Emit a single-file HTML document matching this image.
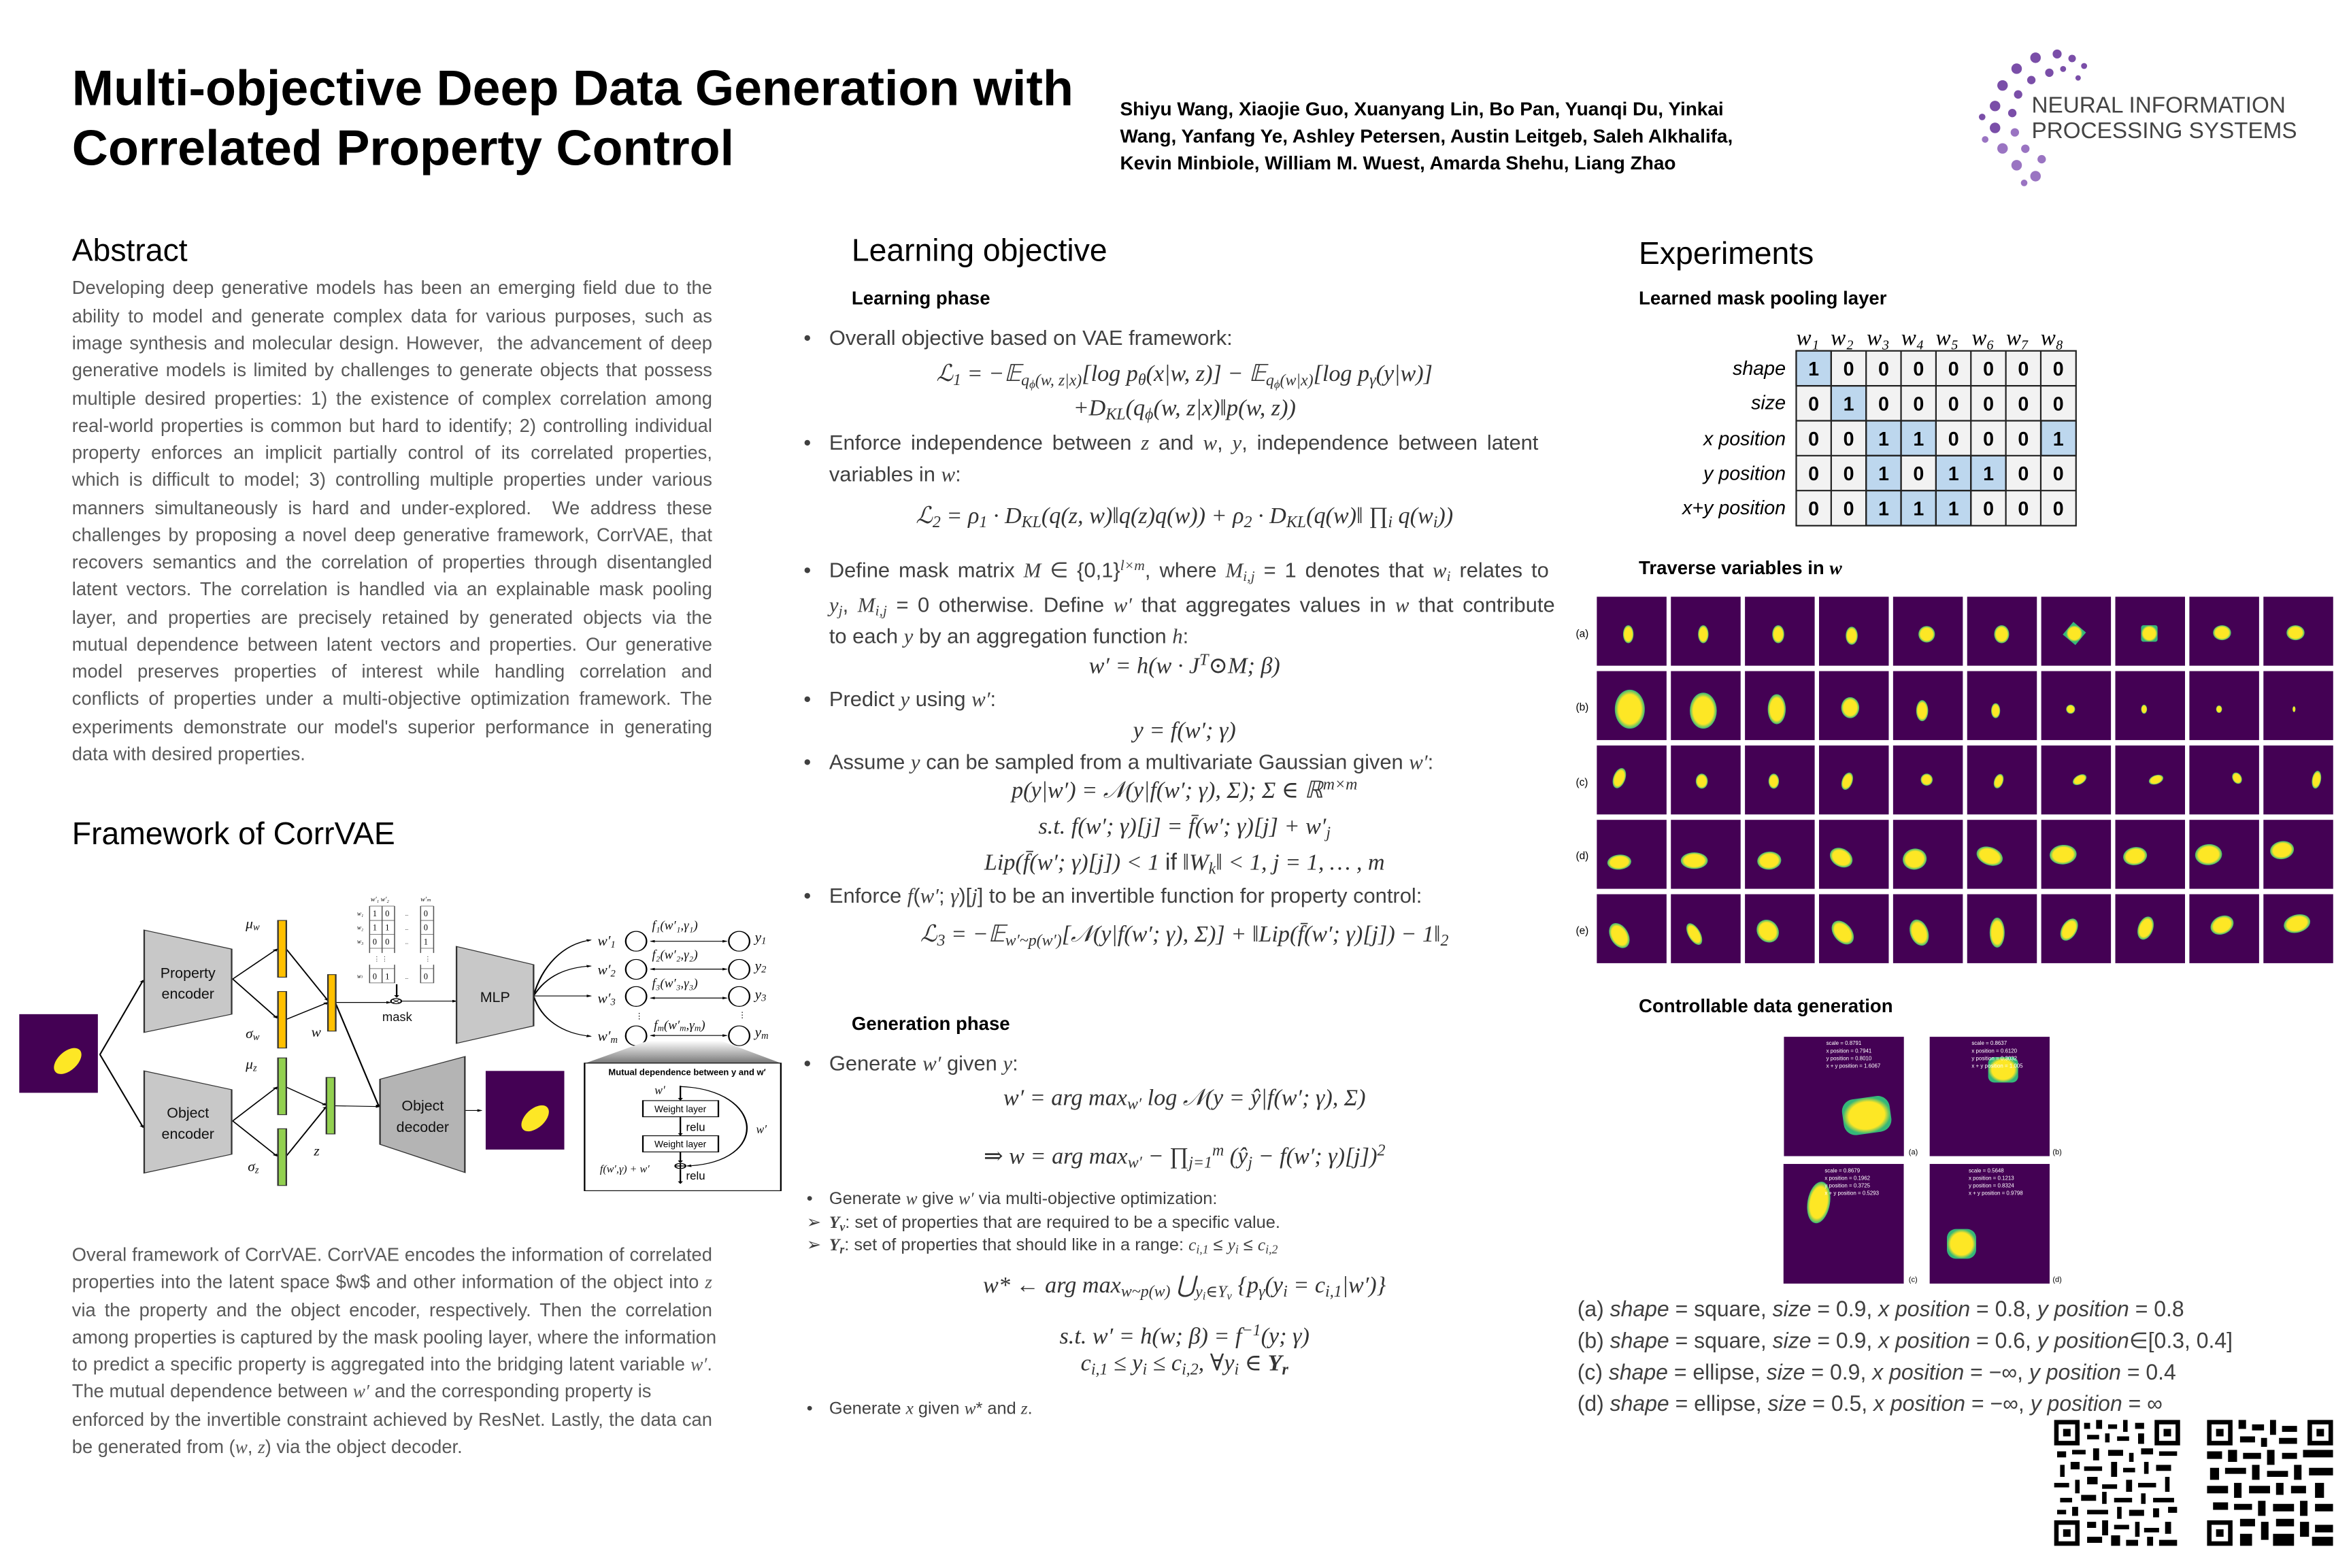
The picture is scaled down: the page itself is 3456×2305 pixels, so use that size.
<!DOCTYPE html>
<html><head><meta charset="utf-8">
<style>
html,body{margin:0;padding:0;background:#fff;width:3456px;height:2304px;overflow:hidden}
#p{position:absolute;left:0;top:0;width:1568px;height:1046px;transform:scale(2.20408);transform-origin:0 0;font-family:"Liberation Sans",Arial,sans-serif}
.t{position:absolute;white-space:nowrap;line-height:18px}
.h{position:absolute;white-space:nowrap;font-size:21px;line-height:24px;color:#000}
.b{font-weight:bold;font-size:12.5px;color:#000}
.ab{position:absolute;left:48px;width:427px;font-size:12.4px;line-height:18px;color:#595959;text-align:justify;text-align-last:justify;white-space:nowrap}
.m{position:absolute;font-size:14px;line-height:20px;color:#404040;white-space:nowrap}
.eq{position:absolute;font-family:"Liberation Serif","DejaVu Serif",serif;font-style:italic;font-size:15.5px;line-height:20px;color:#333;white-space:nowrap;text-align:center}
.eq sub,.m sub{font-size:70%;vertical-align:-0.25em;line-height:0}
.eq sup,.m sup{font-size:70%;vertical-align:0.5em;line-height:0}
i{font-family:"Liberation Serif","DejaVu Serif",serif}
.s{font-size:11.5px}
.cap{position:absolute;left:1052px;font-size:14.5px;line-height:20px;color:#404040;white-space:nowrap}
</style></head><body><div id="p">

<!-- Title -->
<div class="t" style="left:48px;top:40px;font-size:33.4px;line-height:40px;font-weight:bold;color:#000">Multi-objective Deep Data Generation with</div>
<div class="t" style="left:48px;top:80px;font-size:33.4px;line-height:40px;font-weight:bold;color:#000">Correlated Property Control</div>
<div class="t" style="left:747px;top:64px;font-size:12.7px;font-weight:bold;color:#000">Shiyu Wang, Xiaojie Guo, Xuanyang Lin, Bo Pan, Yuanqi Du, Yinkai</div>
<div class="t" style="left:747px;top:82px;font-size:12.7px;font-weight:bold;color:#000">Wang, Yanfang Ye, Ashley Petersen, Austin Leitgeb, Saleh Alkhalifa,</div>
<div class="t" style="left:747px;top:100px;font-size:12.7px;font-weight:bold;color:#000">Kevin Minbiole, William M. Wuest, Amarda Shehu, Liang Zhao</div>

<!-- logo -->
<svg style="position:absolute;left:0;top:0" width="1568" height="1046">
<g fill="#7a4ea8">
<circle cx="1357.6" cy="38.5" r="3.5"/><circle cx="1345" cy="45.8" r="3.5"/><circle cx="1335.6" cy="57" r="3.5"/><circle cx="1330.6" cy="70.7" r="3.5"/><circle cx="1330.6" cy="85.3" r="3.5"/><circle cx="1335.6" cy="99" r="3.5" fill="#9a74c2"/><circle cx="1345" cy="110.2" r="3.5" fill="#9a74c2"/><circle cx="1357.6" cy="117.5" r="3.5" fill="#9a74c2"/>
<circle cx="1366.8" cy="48.5" r="2.8"/><circle cx="1354.8" cy="53.4" r="2.8"/><circle cx="1346" cy="63" r="2.8"/><circle cx="1342.1" cy="75.4" r="2.8"/><circle cx="1343.8" cy="88.3" r="2.8" fill="#9a74c2"/><circle cx="1350.8" cy="99.2" r="2.8" fill="#9a74c2"/><circle cx="1361.7" cy="106.2" r="2.8" fill="#9a74c2"/>
<circle cx="1372" cy="36" r="3"/><circle cx="1382" cy="39" r="2.5"/><circle cx="1390" cy="44" r="2"/><circle cx="1376" cy="46" r="2"/><circle cx="1386" cy="52" r="1.8"/><circle cx="1322" cy="78" r="2.2"/><circle cx="1324" cy="93" r="2.2" fill="#9a74c2"/><circle cx="1350" cy="122" r="2.2" fill="#9a74c2"/>
</g></svg>
<div class="t" style="left:1355px;top:62px;font-size:15.1px;color:#444">NEURAL INFORMATION</div>
<div class="t" style="left:1355px;top:79px;font-size:15.1px;color:#444">PROCESSING SYSTEMS</div>

<!-- Abstract -->
<div class="h" style="left:48px;top:156px">Abstract</div>
<div class="ab" style="top:183px">Developing deep generative models has been an emerging field due to the</div>
<div class="ab" style="top:202px">ability to model and generate complex data for various purposes, such as</div>
<div class="ab" style="top:220px">image synthesis and molecular design. However, &nbsp;the advancement of deep</div>
<div class="ab" style="top:238px">generative models is limited by challenges to generate objects that possess</div>
<div class="ab" style="top:257px">multiple desired properties: 1) the existence of complex correlation among</div>
<div class="ab" style="top:275px">real-world properties is common but hard to identify; 2) controlling individual</div>
<div class="ab" style="top:293px">property enforces an implicit partially control of its correlated properties,</div>
<div class="ab" style="top:311px">which is difficult to model; 3) controlling multiple properties under various</div>
<div class="ab" style="top:330px">manners simultaneously is hard and under-explored. &nbsp;We address these</div>
<div class="ab" style="top:348px">challenges by proposing a novel deep generative framework, CorrVAE, that</div>
<div class="ab" style="top:366px">recovers semantics and the correlation of properties through disentangled</div>
<div class="ab" style="top:384px">latent vectors. The correlation is handled via an explainable mask pooling</div>
<div class="ab" style="top:403px">layer, and properties are precisely retained by generated objects via the</div>
<div class="ab" style="top:421px">mutual dependence between latent vectors and properties. Our generative</div>
<div class="ab" style="top:439px">model preserves properties of interest while handling correlation and</div>
<div class="ab" style="top:457px">conflicts of properties under a multi-objective optimization framework. The</div>
<div class="ab" style="top:476px">experiments demonstrate our model's superior performance in generating</div>
<div class="ab" style="top:494px;text-align-last:left">data with desired properties.</div>

<div class="h" style="left:48px;top:545px">Framework of CorrVAE</div>

<!-- Diagram -->
<svg style="position:absolute;left:0;top:567px" width="544.4" height="272.3" viewBox="0 0 1568 1568" preserveAspectRatio="none">
<defs>
<marker id="ar" markerWidth="10" markerHeight="10" refX="8" refY="5" orient="auto" markerUnits="userSpaceOnUse"><path d="M0,0 L10,5 L0,10z" fill="#000"/></marker>
<marker id="al" markerWidth="10" markerHeight="10" refX="2" refY="5" orient="auto" markerUnits="userSpaceOnUse"><path d="M10,0 L0,5 L10,10z" fill="#000"/></marker>
<linearGradient id="gg" x1="0" y1="0" x2="0" y2="1"><stop offset="0" stop-color="#fff"/><stop offset="1" stop-color="#777"/></linearGradient>
</defs>
<rect x="37" y="630" width="151" height="302" fill="#440154"/>
<ellipse cx="130" cy="810" rx="22" ry="52" fill="#fde725" transform="rotate(18 130 810)"/>
<g stroke="#000" stroke-width="3" fill="none">
<line x1="192" y1="785" x2="275" y2="500" marker-end="url(#ar)"/>
<line x1="192" y1="785" x2="275" y2="1065" marker-end="url(#ar)"/>
<line x1="447" y1="495" x2="532" y2="380" marker-end="url(#ar)"/>
<line x1="447" y1="495" x2="532" y2="645" marker-end="url(#ar)"/>
<line x1="550" y1="380" x2="630" y2="578" marker-end="url(#ar)"/>
<line x1="550" y1="650" x2="630" y2="585" marker-end="url(#ar)"/>
<line x1="645" y1="585" x2="750" y2="585" marker-end="url(#ar)"/>
<line x1="772" y1="580" x2="877" y2="580" marker-end="url(#ar)"/>
<line x1="645" y1="590" x2="728" y2="985" marker-end="url(#ar)"/>
<line x1="447" y1="1040" x2="532" y2="910" marker-end="url(#ar)"/>
<line x1="447" y1="1040" x2="532" y2="1175" marker-end="url(#ar)"/>
<line x1="550" y1="910" x2="627" y2="980" marker-end="url(#ar)"/>
<line x1="550" y1="1175" x2="627" y2="985" marker-end="url(#ar)"/>
<line x1="643" y1="982" x2="730" y2="985" marker-end="url(#ar)"/>
<line x1="762" y1="515" x2="762" y2="565" marker-end="url(#ar)"/>
<line x1="893" y1="1000" x2="925" y2="1000" marker-end="url(#ar)"/>
<path d="M1025,560 C1040,450 1080,360 1135,345" marker-end="url(#ar)"/>
<path d="M1025,560 C1050,480 1090,450 1135,445" marker-end="url(#ar)"/>
<line x1="1025" y1="560" x2="1135" y2="560" marker-end="url(#ar)"/>
<path d="M1025,560 C1040,650 1080,705 1135,715" marker-end="url(#ar)"/>
<line x1="1250" y1="350" x2="1396" y2="350" marker-end="url(#ar)" marker-start="url(#al)"/>
<line x1="1250" y1="457" x2="1396" y2="457" marker-end="url(#ar)" marker-start="url(#al)"/>
<line x1="1250" y1="568" x2="1396" y2="568" marker-end="url(#ar)" marker-start="url(#al)"/>
<line x1="1250" y1="712" x2="1396" y2="712" marker-end="url(#ar)" marker-start="url(#al)"/>
</g>
<circle cx="761" cy="580" r="10" fill="#fff" stroke="#000" stroke-width="3"/>
<path d="M754,573 L768,587 M768,573 L754,587" stroke="#000" stroke-width="2"/>
<g fill="#c8c8c8" stroke="#333" stroke-width="3">
<polygon points="277,307 445,380 445,630 277,700"/>
<polygon points="277,848 445,920 445,1168 277,1240"/>
<polygon points="877,370 1025,440 1025,675 877,742"/>
<polygon points="730,880 893,793 893,1238 730,1130" fill="#b4b4b4"/>
</g>
<g fill="#ffc000" stroke="#333" stroke-width="3"><rect x="534" y="270" width="16" height="218"/><rect x="534" y="543" width="16" height="217"/><rect x="630" y="478" width="15" height="217"/></g>
<g fill="#92d050" stroke="#333" stroke-width="3"><rect x="534" y="798" width="16" height="218"/><rect x="534" y="1070" width="16" height="218"/><rect x="627" y="873" width="16" height="217"/></g>
<g fill="#fff" stroke="#000" stroke-width="3">
<ellipse cx="1222" cy="350" rx="20" ry="38"/><ellipse cx="1222" cy="458" rx="20" ry="38"/><ellipse cx="1222" cy="562" rx="20" ry="38"/><ellipse cx="1222" cy="713" rx="20" ry="38"/>
<ellipse cx="1420" cy="350" rx="20" ry="38"/><ellipse cx="1420" cy="458" rx="20" ry="38"/><ellipse cx="1420" cy="562" rx="20" ry="38"/><ellipse cx="1420" cy="713" rx="20" ry="38"/>
</g>
<polygon points="1245,732 1385,732 1500,818 1125,818" fill="url(#gg)"/>
<rect x="1123" y="818" width="377" height="490" fill="#fff" stroke="#000" stroke-width="3"/>
<g stroke="#000" stroke-width="3" fill="none">
<line x1="1307" y1="905" x2="1307" y2="960" marker-end="url(#ar)"/>
<line x1="1307" y1="1025" x2="1307" y2="1095" marker-end="url(#ar)"/>
<line x1="1307" y1="1160" x2="1307" y2="1200" marker-end="url(#ar)"/>
<line x1="1307" y1="1225" x2="1307" y2="1280" marker-end="url(#ar)"/>
<path d="M1307,908 C1470,920 1480,1200 1320,1213" marker-end="url(#ar)"/>
<circle cx="1307" cy="1213" r="10" fill="#fff"/>
<path d="M1297,1213 H1317 M1307,1203 V1223"/>
<rect x="1235" y="962" width="145" height="62" fill="#fff"/>
<rect x="1235" y="1097" width="145" height="62" fill="#fff"/>
</g>
<rect x="933" y="848" width="151" height="302" fill="#440154"/>
<ellipse cx="1028" cy="1030" rx="22" ry="52" fill="#fde725" transform="rotate(18 1028 1030)"/>
<g stroke="#555" stroke-width="2" fill="none">
<path d="M710,215 V395 M734,215 V395 M758,215 V395 M808,215 V395 M833,215 V395 M710,215 H758 M808,215 H833 M710,270 H758 M808,270 H833 M710,323 H758 M808,323 H833 M710,377 H758 M808,377 H833"/>
<path d="M710,440 V510 H758 V440 M734,455 V510 M808,440 V510 H833 V440 M710,455 H758 M808,455 H833"/>
</g>
<g transform="scale(0.5 1)">
<g font-family="Liberation Sans,sans-serif" font-size="56" text-anchor="middle" fill="#111">
<text x="722" y="490">Property</text><text x="722" y="570">encoder</text>
<text x="722" y="1027">Object</text><text x="722" y="1108">encoder</text>
<text x="1624" y="1000">Object</text><text x="1624" y="1082">decoder</text>
<text x="1902" y="583">MLP</text>
<text x="1526" y="657" font-size="48">mask</text>
</g>
<g font-family="Liberation Serif,serif" font-style="italic" font-size="56" fill="#111">
<text x="944" y="300">μ<tspan font-size="38" dy="8">w</tspan></text>
<text x="944" y="722">σ<tspan font-size="38" dy="8">w</tspan></text>
<text x="1196" y="717">w</text>
<text x="944" y="840">μ<tspan font-size="38" dy="8">z</tspan></text>
<text x="952" y="1232">σ<tspan font-size="38" dy="8">z</tspan></text>
<text x="1206" y="1172">z</text>
<text x="2296" y="367">w′<tspan font-size="38" dy="8">1</tspan></text>
<text x="2296" y="477">w′<tspan font-size="38" dy="8">2</tspan></text>
<text x="2296" y="587">w′<tspan font-size="38" dy="8">3</tspan></text>
<text x="2296" y="732">w′<tspan font-size="38" dy="8">m</tspan></text>
<text x="2900" y="352">y<tspan font-size="38" dy="8">1</tspan></text>
<text x="2900" y="462">y<tspan font-size="38" dy="8">2</tspan></text>
<text x="2900" y="572">y<tspan font-size="38" dy="8">3</tspan></text>
<text x="2900" y="717">y<tspan font-size="38" dy="8">m</tspan></text>
<text x="2505" y="305" font-size="50">f₁(w′₁,γ₁)</text>
<text x="2505" y="417" font-size="50">f₂(w′₂,γ₂)</text>
<text x="2505" y="527" font-size="50">f₃(w′₃,γ₃)</text>
<text x="2512" y="688" font-size="50">f<tspan font-size="34" dy="6">m</tspan><tspan dy="-6">(w′</tspan><tspan font-size="34" dy="6">m</tspan><tspan dy="-6">,γ</tspan><tspan font-size="34" dy="6">m</tspan><tspan dy="-6">)</tspan></text>
<text x="2905" y="1088" font-size="46">w′</text>
<text x="2515" y="938" font-size="46">w′</text>
<text x="2305" y="1238" font-size="42">f(w′,γ) + w′</text>
</g>
<g fill="#000" font-size="32" font-family="Liberation Sans,sans-serif"><text x="2440" y="648">⋮</text><text x="2836" y="643">⋮</text></g>
<text x="2640" y="864" text-anchor="middle" font-family="Liberation Sans,sans-serif" font-weight="bold" font-size="34" fill="#000">Mutual dependence between y and w′</text>
<g font-family="Liberation Sans,sans-serif" font-size="36" fill="#000">
<text x="2614" y="1006" text-anchor="middle">Weight layer</text><text x="2614" y="1141" text-anchor="middle">Weight layer</text>
<text x="2636" y="1078" font-size="44">relu</text><text x="2636" y="1265" font-size="44">relu</text>
</g>
<g font-family="Liberation Serif,serif" font-size="32" fill="#000">
<text x="1424" y="197" font-style="italic" font-size="26">w′₁ w′₂</text><text x="1616" y="197" font-style="italic" font-size="26">w′ₘ</text>
<text x="1372" y="252" font-style="italic" font-size="24">w₁</text><text x="1372" y="305" font-style="italic" font-size="24">w₂</text><text x="1372" y="359" font-style="italic" font-size="24">w₃</text><text x="1372" y="492" font-style="italic" font-size="24">wₗ</text>
<text x="1432" y="254">1</text><text x="1480" y="254">0</text><text x="1628" y="254">0</text>
<text x="1432" y="308">1</text><text x="1480" y="308">1</text><text x="1628" y="308">0</text>
<text x="1432" y="362">0</text><text x="1480" y="362">0</text><text x="1628" y="362">1</text>
<text x="1432" y="496">0</text><text x="1480" y="496">1</text><text x="1628" y="496">0</text>
<text x="1556" y="252" font-size="18">...</text><text x="1556" y="306" font-size="18">...</text><text x="1556" y="360" font-size="18">...</text><text x="1556" y="494" font-size="18">...</text>
<text x="1436" y="425" font-size="24">⋮ ⋮</text><text x="1632" y="425" font-size="24">⋮</text>
</g>
</g>
</svg>

<div class="ab" style="top:828px">Overal framework of CorrVAE. CorrVAE encodes the information of correlated</div>
<div class="ab" style="top:846px">properties into the latent space $w$ and other information of the object into <i>z</i></div>
<div class="ab" style="top:865px">via the property and the object encoder, respectively. Then the correlation</div>
<div class="ab" style="top:883px">among properties is captured by the mask pooling layer, where the information</div>
<div class="ab" style="top:901px">to predict a specific property is aggregated into the bridging latent variable <i>w′</i>.</div>
<div class="ab" style="top:919px;text-align-last:left">The mutual dependence between <i>w′</i> and the corresponding property is</div>
<div class="ab" style="top:938px">enforced by the invertible constraint achieved by ResNet. Lastly, the data can</div>
<div class="ab" style="top:956px;text-align-last:left">be generated from (<i>w</i>, <i>z</i>) via the object decoder.</div>

<!-- Middle column -->
<div class="h" style="left:568px;top:156px">Learning objective</div>
<div class="t b" style="left:568px;top:190px">Learning phase</div>

<div class="m" style="left:536px;top:215px">•</div><div class="m" style="left:553px;top:215px">Overall objective based on VAE framework:</div>
<div class="eq" style="left:560px;width:460px;top:240px">ℒ<sub>1</sub> = −𝔼<sub>q<sub>ϕ</sub>(w, z|x)</sub>[log p<sub>θ</sub>(x|w, z)] − 𝔼<sub>q<sub>ϕ</sub>(w|x)</sub>[log p<sub>γ</sub>(y|w)]</div>
<div class="eq" style="left:560px;width:460px;top:263px">+D<sub>KL</sub>(q<sub>ϕ</sub>(w, z|x)‖p(w, z))</div>
<div class="m" style="left:536px;top:285px">•</div><div class="m" style="left:553px;top:285px;width:473px;text-align:justify;text-align-last:justify">Enforce independence between <i>z</i> and <i>w</i>, <i>y</i>, independence between latent</div>
<div class="m" style="left:553px;top:306px">variables in <i>w</i>:</div>
<div class="eq" style="left:560px;width:460px;top:335px">ℒ<sub>2</sub> = ρ<sub>1</sub> · D<sub>KL</sub>(q(z, w)‖q(z)q(w)) + ρ<sub>2</sub> · D<sub>KL</sub>(q(w)‖ ∏<sub>i</sub> q(w<sub>i</sub>))</div>
<div class="m" style="left:536px;top:370px">•</div><div class="m" style="left:553px;top:370px;width:480px;text-align:justify;text-align-last:justify">Define mask matrix <i>M</i> ∈ {0,1}<sup><i>l×m</i></sup>, where <i>M<sub>i,j</sub></i> = 1 denotes that <i>w<sub>i</sub></i> relates to</div>
<div class="m" style="left:553px;top:393px;width:484px;text-align:justify;text-align-last:justify"><i>y<sub>j</sub></i>, <i>M<sub>i,j</sub></i> = 0 otherwise. Define <i>w′</i> that aggregates values in <i>w</i> that contribute</div>
<div class="m" style="left:553px;top:414px">to each <i>y</i> by an aggregation function <i>h</i>:</div>
<div class="eq" style="left:560px;width:460px;top:435px">w′ = h(w · J<sup>T</sup>⊙M; β)</div>
<div class="m" style="left:536px;top:456px">•</div><div class="m" style="left:553px;top:456px">Predict <i>y</i> using <i>w′</i>:</div>
<div class="eq" style="left:560px;width:460px;top:478px">y = f(w′; γ)</div>
<div class="m" style="left:536px;top:498px">•</div><div class="m" style="left:553px;top:498px">Assume <i>y</i> can be sampled from a multivariate Gaussian given <i>w′</i>:</div>
<div class="eq" style="left:560px;width:460px;top:518px">p(y|w′) = 𝒩(y|f(w′; γ), Σ); Σ ∈ ℝ<sup>m×m</sup></div>
<div class="eq" style="left:560px;width:460px;top:542px">s.t. f(w′; γ)[j] = f̄(w′; γ)[j] + w′<sub>j</sub></div>
<div class="eq" style="left:560px;width:460px;top:566px">Lip(f̄(w′; γ)[j]) &lt; 1 <span style="font-style:normal;font-family:Liberation Sans">if</span> ‖W<sub>k</sub>‖ &lt; 1, j = 1, … , m</div>
<div class="m" style="left:536px;top:587px">•</div><div class="m" style="left:553px;top:587px">Enforce <i>f</i>(<i>w′</i>; <i>γ</i>)[<i>j</i>] to be an invertible function for property control:</div>
<div class="eq" style="left:560px;width:460px;top:614px">ℒ<sub>3</sub> = −𝔼<sub>w′~p(w′)</sub>[𝒩(y|f(w′; γ), Σ)] + ‖Lip(f̄(w′; γ)[j]) − 1‖<sub>2</sub></div>

<div class="t b" style="left:568px;top:674px">Generation phase</div>
<div class="m" style="left:536px;top:699px">•</div><div class="m" style="left:553px;top:699px">Generate <i>w′</i> given <i>y</i>:</div>
<div class="eq" style="left:560px;width:460px;top:723px">w′ = arg max<sub>w′</sub> log 𝒩(y = ŷ|f(w′; γ), Σ)</div>
<div class="eq" style="left:560px;width:460px;top:762px">⇒ w = arg max<sub>w′</sub> − ∏<sub>j=1</sub><sup>m</sup> (ŷ<sub>j</sub> − f(w′; γ)[j])<sup>2</sup></div>
<div class="m s" style="left:538px;top:790px">•</div><div class="m s" style="left:553px;top:790px">Generate <i>w</i> give <i>w′</i> via multi-objective optimization:</div>
<div class="m s" style="left:538px;top:806px">➢</div><div class="m s" style="left:553px;top:806px"><i><b>Y<sub>v</sub></b></i>: set of properties that are required to be a specific value.</div>
<div class="m s" style="left:538px;top:821px">➢</div><div class="m s" style="left:553px;top:821px"><i><b>Y<sub>r</sub></b></i>: set of properties that should like in a range: <i>c<sub>i,1</sub></i> ≤ <i>y<sub>i</sub></i> ≤ <i>c<sub>i,2</sub></i></div>
<div class="eq" style="left:560px;width:460px;top:848px">w* ← arg max<sub>w~p(w)</sub> ⋃<sub>y<sub>i</sub>∈Y<sub>v</sub></sub> {p<sub>γ</sub>(y<sub>i</sub> = c<sub>i,1</sub>|w′)}</div>
<div class="eq" style="left:560px;width:460px;top:882px">s.t. w′ = h(w; β) = f<sup>−1</sup>(y; γ)</div>
<div class="eq" style="left:560px;width:460px;top:900px">c<sub>i,1</sub> ≤ y<sub>i</sub> ≤ c<sub>i,2</sub>, ∀y<sub>i</sub> ∈ <b>Y<sub>r</sub></b></div>
<div class="m s" style="left:538px;top:930px">•</div><div class="m s" style="left:553px;top:930px">Generate <i>x</i> given <i>w</i>* and <i>z</i>.</div>

<!-- Right column -->
<div class="h" style="left:1093px;top:158px">Experiments</div>
<div class="t b" style="left:1093px;top:190px">Learned mask pooling layer</div>
<svg style="position:absolute;left:1100px;top:210px" width="300" height="150">
<g font-family="Liberation Serif,serif" font-style="italic" font-size="15" fill="#000">
<text x="98" y="20">w₁</text><text x="121" y="20">w₂</text><text x="145" y="20">w₃</text><text x="168" y="20">w₄</text><text x="191" y="20">w₅</text><text x="215" y="20">w₆</text><text x="238" y="20">w₇</text><text x="261" y="20">w₈</text>
</g>
<g font-family="Liberation Sans,sans-serif" font-style="italic" font-size="13" fill="#000" text-anchor="end">
<text x="91" y="40">shape</text><text x="91" y="63">size</text><text x="91" y="87">x position</text><text x="91" y="110">y position</text><text x="91" y="133">x+y position</text>
</g>
<g stroke="#222" stroke-width="1">
<rect x="98" y="24" width="186.6" height="116.6" fill="#f2f2f2"/>
<g fill="#bdd7ee"><rect x="98" y="24" width="23.3" height="23.3"/><rect x="121.3" y="47.3" width="23.3" height="23.3"/><rect x="144.6" y="70.6" width="23.3" height="23.3"/><rect x="167.9" y="70.6" width="23.3" height="23.3"/><rect x="261.3" y="70.6" width="23.3" height="23.3"/><rect x="144.6" y="93.9" width="23.3" height="23.3"/><rect x="191.2" y="93.9" width="23.3" height="23.3"/><rect x="214.5" y="93.9" width="23.3" height="23.3"/><rect x="144.6" y="117.2" width="23.3" height="23.3"/><rect x="167.9" y="117.2" width="23.3" height="23.3"/><rect x="191.2" y="117.2" width="23.3" height="23.3"/></g>
<path d="M121.3,24V140.6M144.6,24V140.6M167.9,24V140.6M191.2,24V140.6M214.5,24V140.6M237.8,24V140.6M261.1,24V140.6M98,47.3H284.6M98,70.6H284.6M98,93.9H284.6M98,117.2H284.6" fill="none"/>
</g>
<g font-family="Liberation Sans,sans-serif" font-weight="bold" font-size="13" fill="#000" text-anchor="middle">
<text x="109.6" y="40.5">1</text><text x="133" y="40.5">0</text><text x="156.3" y="40.5">0</text><text x="179.6" y="40.5">0</text><text x="202.9" y="40.5">0</text><text x="226.2" y="40.5">0</text><text x="249.5" y="40.5">0</text><text x="272.8" y="40.5">0</text>
<text x="109.6" y="63.8">0</text><text x="133" y="63.8">1</text><text x="156.3" y="63.8">0</text><text x="179.6" y="63.8">0</text><text x="202.9" y="63.8">0</text><text x="226.2" y="63.8">0</text><text x="249.5" y="63.8">0</text><text x="272.8" y="63.8">0</text>
<text x="109.6" y="87.1">0</text><text x="133" y="87.1">0</text><text x="156.3" y="87.1">1</text><text x="179.6" y="87.1">1</text><text x="202.9" y="87.1">0</text><text x="226.2" y="87.1">0</text><text x="249.5" y="87.1">0</text><text x="272.8" y="87.1">1</text>
<text x="109.6" y="110.4">0</text><text x="133" y="110.4">0</text><text x="156.3" y="110.4">1</text><text x="179.6" y="110.4">0</text><text x="202.9" y="110.4">1</text><text x="226.2" y="110.4">1</text><text x="249.5" y="110.4">0</text><text x="272.8" y="110.4">0</text>
<text x="109.6" y="133.7">0</text><text x="133" y="133.7">0</text><text x="156.3" y="133.7">1</text><text x="179.6" y="133.7">1</text><text x="202.9" y="133.7">1</text><text x="226.2" y="133.7">0</text><text x="249.5" y="133.7">0</text><text x="272.8" y="133.7">0</text>
</g></svg>

<div class="t b" style="left:1093px;top:370px">Traverse variables in <i>w</i></div>
<svg style="position:absolute;left:1040px;top:395px" width="525" height="255">
<defs><radialGradient id="yb"><stop offset="0.75" stop-color="#fde725"/><stop offset="1" stop-color="#35b779"/></radialGradient></defs>
<g font-family="Liberation Sans,sans-serif" font-size="7" fill="#000"><text x="11" y="30">(a)</text><text x="11" y="79">(b)</text><text x="11" y="129">(c)</text><text x="11" y="178">(d)</text><text x="11" y="228">(e)</text></g>
<g fill="#440154">
<rect x="25" y="3" width="46.5" height="46"/><rect x="74.4" y="3" width="46.5" height="46"/><rect x="123.8" y="3" width="46.5" height="46"/><rect x="173.2" y="3" width="46.5" height="46"/><rect x="222.6" y="3" width="46.5" height="46"/><rect x="272" y="3" width="46.5" height="46"/><rect x="321.4" y="3" width="46.5" height="46"/><rect x="370.8" y="3" width="46.5" height="46"/><rect x="420.2" y="3" width="46.5" height="46"/><rect x="469.6" y="3" width="46.5" height="46"/>
<rect x="25" y="52.6" width="46.5" height="46"/><rect x="74.4" y="52.6" width="46.5" height="46"/><rect x="123.8" y="52.6" width="46.5" height="46"/><rect x="173.2" y="52.6" width="46.5" height="46"/><rect x="222.6" y="52.6" width="46.5" height="46"/><rect x="272" y="52.6" width="46.5" height="46"/><rect x="321.4" y="52.6" width="46.5" height="46"/><rect x="370.8" y="52.6" width="46.5" height="46"/><rect x="420.2" y="52.6" width="46.5" height="46"/><rect x="469.6" y="52.6" width="46.5" height="46"/>
<rect x="25" y="102.2" width="46.5" height="46"/><rect x="74.4" y="102.2" width="46.5" height="46"/><rect x="123.8" y="102.2" width="46.5" height="46"/><rect x="173.2" y="102.2" width="46.5" height="46"/><rect x="222.6" y="102.2" width="46.5" height="46"/><rect x="272" y="102.2" width="46.5" height="46"/><rect x="321.4" y="102.2" width="46.5" height="46"/><rect x="370.8" y="102.2" width="46.5" height="46"/><rect x="420.2" y="102.2" width="46.5" height="46"/><rect x="469.6" y="102.2" width="46.5" height="46"/>
<rect x="25" y="151.8" width="46.5" height="46"/><rect x="74.4" y="151.8" width="46.5" height="46"/><rect x="123.8" y="151.8" width="46.5" height="46"/><rect x="173.2" y="151.8" width="46.5" height="46"/><rect x="222.6" y="151.8" width="46.5" height="46"/><rect x="272" y="151.8" width="46.5" height="46"/><rect x="321.4" y="151.8" width="46.5" height="46"/><rect x="370.8" y="151.8" width="46.5" height="46"/><rect x="420.2" y="151.8" width="46.5" height="46"/><rect x="469.6" y="151.8" width="46.5" height="46"/>
<rect x="25" y="201.4" width="46.5" height="46"/><rect x="74.4" y="201.4" width="46.5" height="46"/><rect x="123.8" y="201.4" width="46.5" height="46"/><rect x="173.2" y="201.4" width="46.5" height="46"/><rect x="222.6" y="201.4" width="46.5" height="46"/><rect x="272" y="201.4" width="46.5" height="46"/><rect x="321.4" y="201.4" width="46.5" height="46"/><rect x="370.8" y="201.4" width="46.5" height="46"/><rect x="420.2" y="201.4" width="46.5" height="46"/><rect x="469.6" y="201.4" width="46.5" height="46"/>
</g>
<g fill="url(#yb)">
<ellipse cx="46" cy="28" rx="3.5" ry="6"/><ellipse cx="96" cy="28" rx="3.5" ry="6"/><ellipse cx="146" cy="28" rx="4" ry="6"/><ellipse cx="195" cy="29" rx="4" ry="6"/><ellipse cx="245" cy="28" rx="5.5" ry="5.5"/><ellipse cx="295" cy="28" rx="5" ry="6"/><rect x="338" y="22" width="11" height="11" transform="rotate(40 343.5 27.5)"/><rect x="388" y="22" width="11" height="11" rx="1.5"/><ellipse cx="442" cy="27" rx="6" ry="5"/><ellipse cx="491" cy="27" rx="6" ry="5"/>
<ellipse cx="47" cy="78" rx="10" ry="13"/><ellipse cx="96" cy="79" rx="9" ry="12"/><ellipse cx="145" cy="78" rx="6" ry="10"/><ellipse cx="194" cy="77" rx="6" ry="7"/><ellipse cx="242" cy="79" rx="4" ry="7"/><ellipse cx="291" cy="79" rx="3" ry="5"/><ellipse cx="341" cy="78" rx="3" ry="3"/><ellipse cx="390" cy="78" rx="2" ry="3"/><ellipse cx="440" cy="78" rx="2" ry="2.5"/><ellipse cx="490" cy="78" rx="1" ry="2"/>
<ellipse cx="40" cy="124" rx="4" ry="7" transform="rotate(20 40 124)"/><ellipse cx="95" cy="126" rx="4" ry="5"/><ellipse cx="143" cy="126" rx="3.5" ry="5"/><ellipse cx="192" cy="126" rx="3.5" ry="6" transform="rotate(20 192 126)"/><ellipse cx="245" cy="125" rx="4" ry="4"/><ellipse cx="293" cy="126" rx="3" ry="5" transform="rotate(20 293 126)"/><ellipse cx="347" cy="125" rx="5" ry="3" transform="rotate(-30 347 125)"/><ellipse cx="398" cy="125" rx="5" ry="3" transform="rotate(-20 398 125)"/><ellipse cx="452" cy="124" rx="3" ry="4" transform="rotate(-30 452 124)"/><ellipse cx="505" cy="125" rx="3" ry="6" transform="rotate(10 505 125)"/>
<ellipse cx="40" cy="180" rx="8" ry="5" transform="rotate(-5 40 180)"/><ellipse cx="90" cy="179" rx="9" ry="5.5"/><ellipse cx="140" cy="179" rx="8" ry="6" transform="rotate(-5 140 179)"/><ellipse cx="188" cy="177" rx="8" ry="6" transform="rotate(30 188 177)"/><ellipse cx="237" cy="178" rx="8" ry="7" transform="rotate(-10 237 178)"/><ellipse cx="287" cy="176" rx="9" ry="6" transform="rotate(20 287 176)"/><ellipse cx="336" cy="175" rx="9" ry="6.5" transform="rotate(-5 336 175)"/><ellipse cx="384" cy="176" rx="8" ry="6" transform="rotate(-10 384 176)"/><ellipse cx="433" cy="175" rx="9" ry="7" transform="rotate(-5 433 175)"/><ellipse cx="482" cy="172" rx="8" ry="6" transform="rotate(-10 482 172)"/>
<ellipse cx="40" cy="229" rx="6" ry="9" transform="rotate(-30 40 229)"/><ellipse cx="90" cy="228" rx="4" ry="8" transform="rotate(-30 90 228)"/><ellipse cx="139" cy="226" rx="7" ry="8" transform="rotate(-40 139 226)"/><ellipse cx="189" cy="227" rx="6" ry="9" transform="rotate(-40 189 227)"/><ellipse cx="240" cy="227" rx="6" ry="9" transform="rotate(-20 240 227)"/><ellipse cx="292" cy="227" rx="5" ry="10"/><ellipse cx="340" cy="225" rx="5" ry="8" transform="rotate(30 340 225)"/><ellipse cx="391" cy="224" rx="5" ry="8" transform="rotate(20 391 224)"/><ellipse cx="442" cy="222" rx="8" ry="6" transform="rotate(-25 442 222)"/><ellipse cx="492" cy="221" rx="9" ry="6" transform="rotate(-15 492 221)"/>
</g></svg>

<div class="t b" style="left:1093px;top:662px">Controllable data generation</div>
<svg style="position:absolute;left:1185px;top:688px" width="200" height="175">
<g fill="#440154"><rect x="4.8" y="3.5" width="80" height="79.6"/><rect x="102" y="3.5" width="80" height="79.6"/><rect x="4.5" y="88.3" width="80.2" height="79.8"/><rect x="102" y="88.3" width="80" height="79.8"/></g>
<g fill="url(#yb)">
<rect x="44" y="44" width="32" height="24" rx="8" transform="rotate(-8 60 56)"/><rect x="141" y="17" width="20" height="17" rx="4"/>
<ellipse cx="28" cy="114" rx="7.5" ry="14" transform="rotate(10 28 114)"/><rect x="113.5" y="131.7" width="19.5" height="19.8" rx="6"/>
</g>
<g font-family="Liberation Sans,sans-serif" font-size="3.6" fill="#fff">
<text x="33" y="9">scale = 0.8791</text><text x="33" y="14">x position = 0.7941</text><text x="33" y="19">y position = 0.8010</text><text x="33" y="24">x + y position = 1.6067</text>
<text x="130" y="9">scale = 0.8637</text><text x="130" y="14">x position = 0.6120</text><text x="130" y="19">y position = 0.3032</text><text x="130" y="24">x + y position = 1.005</text>
<text x="32" y="94">scale = 0.8679</text><text x="32" y="99">x position = 0.1962</text><text x="32" y="104">y position = 0.3725</text><text x="32" y="109">x + y position = 0.5293</text>
<text x="128" y="94">scale = 0.5648</text><text x="128" y="99">x position = 0.1213</text><text x="128" y="104">y position = 0.8324</text><text x="128" y="109">x + y position = 0.9798</text>
</g>
<g font-family="Liberation Sans,sans-serif" font-size="5" fill="#000"><text x="88" y="82">(a)</text><text x="184" y="82">(b)</text><text x="88" y="167">(c)</text><text x="184" y="167">(d)</text></g>
</svg>

<div class="cap" style="top:864px">(a) <i style="font-family:inherit">shape</i> = square, <i style="font-family:inherit">size</i> = 0.9, <i style="font-family:inherit">x position</i> = 0.8, <i style="font-family:inherit">y position</i> = 0.8</div>
<div class="cap" style="top:885px">(b) <i style="font-family:inherit">shape</i> = square, <i style="font-family:inherit">size</i> = 0.9, <i style="font-family:inherit">x position</i> = 0.6, <i style="font-family:inherit">y position</i>∈[0.3, 0.4]</div>
<div class="cap" style="top:906px">(c) <i style="font-family:inherit">shape</i> = ellipse, <i style="font-family:inherit">size</i> = 0.9, <i style="font-family:inherit">x position</i> = −∞, <i style="font-family:inherit">y position</i> = 0.4</div>
<div class="cap" style="top:927px">(d) <i style="font-family:inherit">shape</i> = ellipse, <i style="font-family:inherit">size</i> = 0.5, <i style="font-family:inherit">x position</i> = −∞, <i style="font-family:inherit">y position</i> = ∞</div>

<!-- QR codes -->
<svg style="position:absolute;left:1370px;top:947px" width="190" height="85">
<g fill="#000">
<path d="M0,0h17v17h-17zM3,3v11h11v-11zM6,6h5v5h-5z"/><path d="M67,0h17v17h-17zM70,3v11h11v-11zM73,6h5v5h-5z"/><path d="M0,67h17v17h-17zM3,70v11h11v-11zM6,73h5v5h-5z"/>
<path d="M20,2h4v4h-4zM28,0h4v6h-4zM36,3h6v3h-6zM46,0h3v8h-3zM54,2h6v4h-6zM22,10h8v3h-8zM34,9h3v6h-3zM42,11h8v3h-8zM56,9h4v7h-4zM2,21h6v4h-6zM12,20h9v3h-9zM26,19h4v8h-4zM36,20h10v4h-10zM50,22h3v6h-3zM58,19h8v4h-8zM70,21h12v3h-12zM4,30h3v8h-3zM11,28h6v5h-6zM20,31h12v3h-12zM38,28h4v10h-4zM46,32h8v3h-8zM60,28h3v8h-3zM68,30h10v4h-10zM0,42h10v3h-10zM14,40h3v9h-3zM22,38h7v5h-7zM32,43h10v3h-10zM48,40h4v8h-4zM56,42h12v3h-12zM74,38h3v10h-3zM4,52h8v3h-8zM18,50h10v4h-10zM32,48h3v8h-3zM40,52h12v3h-12zM58,49h3v7h-3zM66,52h14v3h-14zM2,60h6v3h-6zM12,58h4v6h-4zM22,60h14v3h-14zM42,58h3v8h-3zM50,60h10v4h-10zM66,59h4v6h-4zM76,58h6v4h-6zM22,68h6v4h-6zM32,67h4v10h-4zM40,70h10v3h-10zM54,68h3v10h-3zM60,72h10v3h-10zM74,68h4v8h-4zM22,78h10v4h-10zM38,77h6v7h-6zM48,80h8v4h-8zM62,78h4v6h-4zM70,80h12v4h-12z"/>
<g transform="translate(102,0)">
<path d="M0,0h17v17h-17zM3,3v11h11v-11zM6,6h5v5h-5z"/><path d="M67,0h17v17h-17zM70,3v11h11v-11zM73,6h5v5h-5z"/><path d="M0,67h17v17h-17zM3,70v11h11v-11zM6,73h5v5h-5z"/>
<path d="M21,0h5v6h-5zM30,3h8v4h-8zM42,0h4v10h-4zM50,4h10v4h-10zM22,11h10v4h-10zM36,12h4v6h-4zM48,12h12v4h-12zM0,21h10v5h-10zM14,20h6v8h-6zM24,22h12v4h-12zM40,20h5v10h-5zM50,22h10v4h-10zM64,20h20v5h-20zM2,32h6v8h-6zM12,32h14v4h-14zM30,30h5v10h-5zM40,34h14v4h-14zM58,30h5v10h-5zM68,32h16v5h-16zM0,44h14v5h-14zM18,42h5v10h-5zM28,44h14v5h-14zM46,42h5v8h-5zM56,44h10v5h-10zM72,42h6v10h-6zM4,55h10v5h-10zM18,56h12v4h-12zM34,54h5v10h-5zM44,56h14v5h-14zM62,54h5v10h-5zM72,56h12v5h-12zM22,66h10v5h-10zM36,68h5v12h-5zM46,66h12v5h-12zM62,68h6v10h-6zM72,70h12v5h-12zM22,76h8v8h-8zM44,76h14v8h-14zM70,78h14v6h-14z"/>
</g></g></svg>

</div></body></html>
